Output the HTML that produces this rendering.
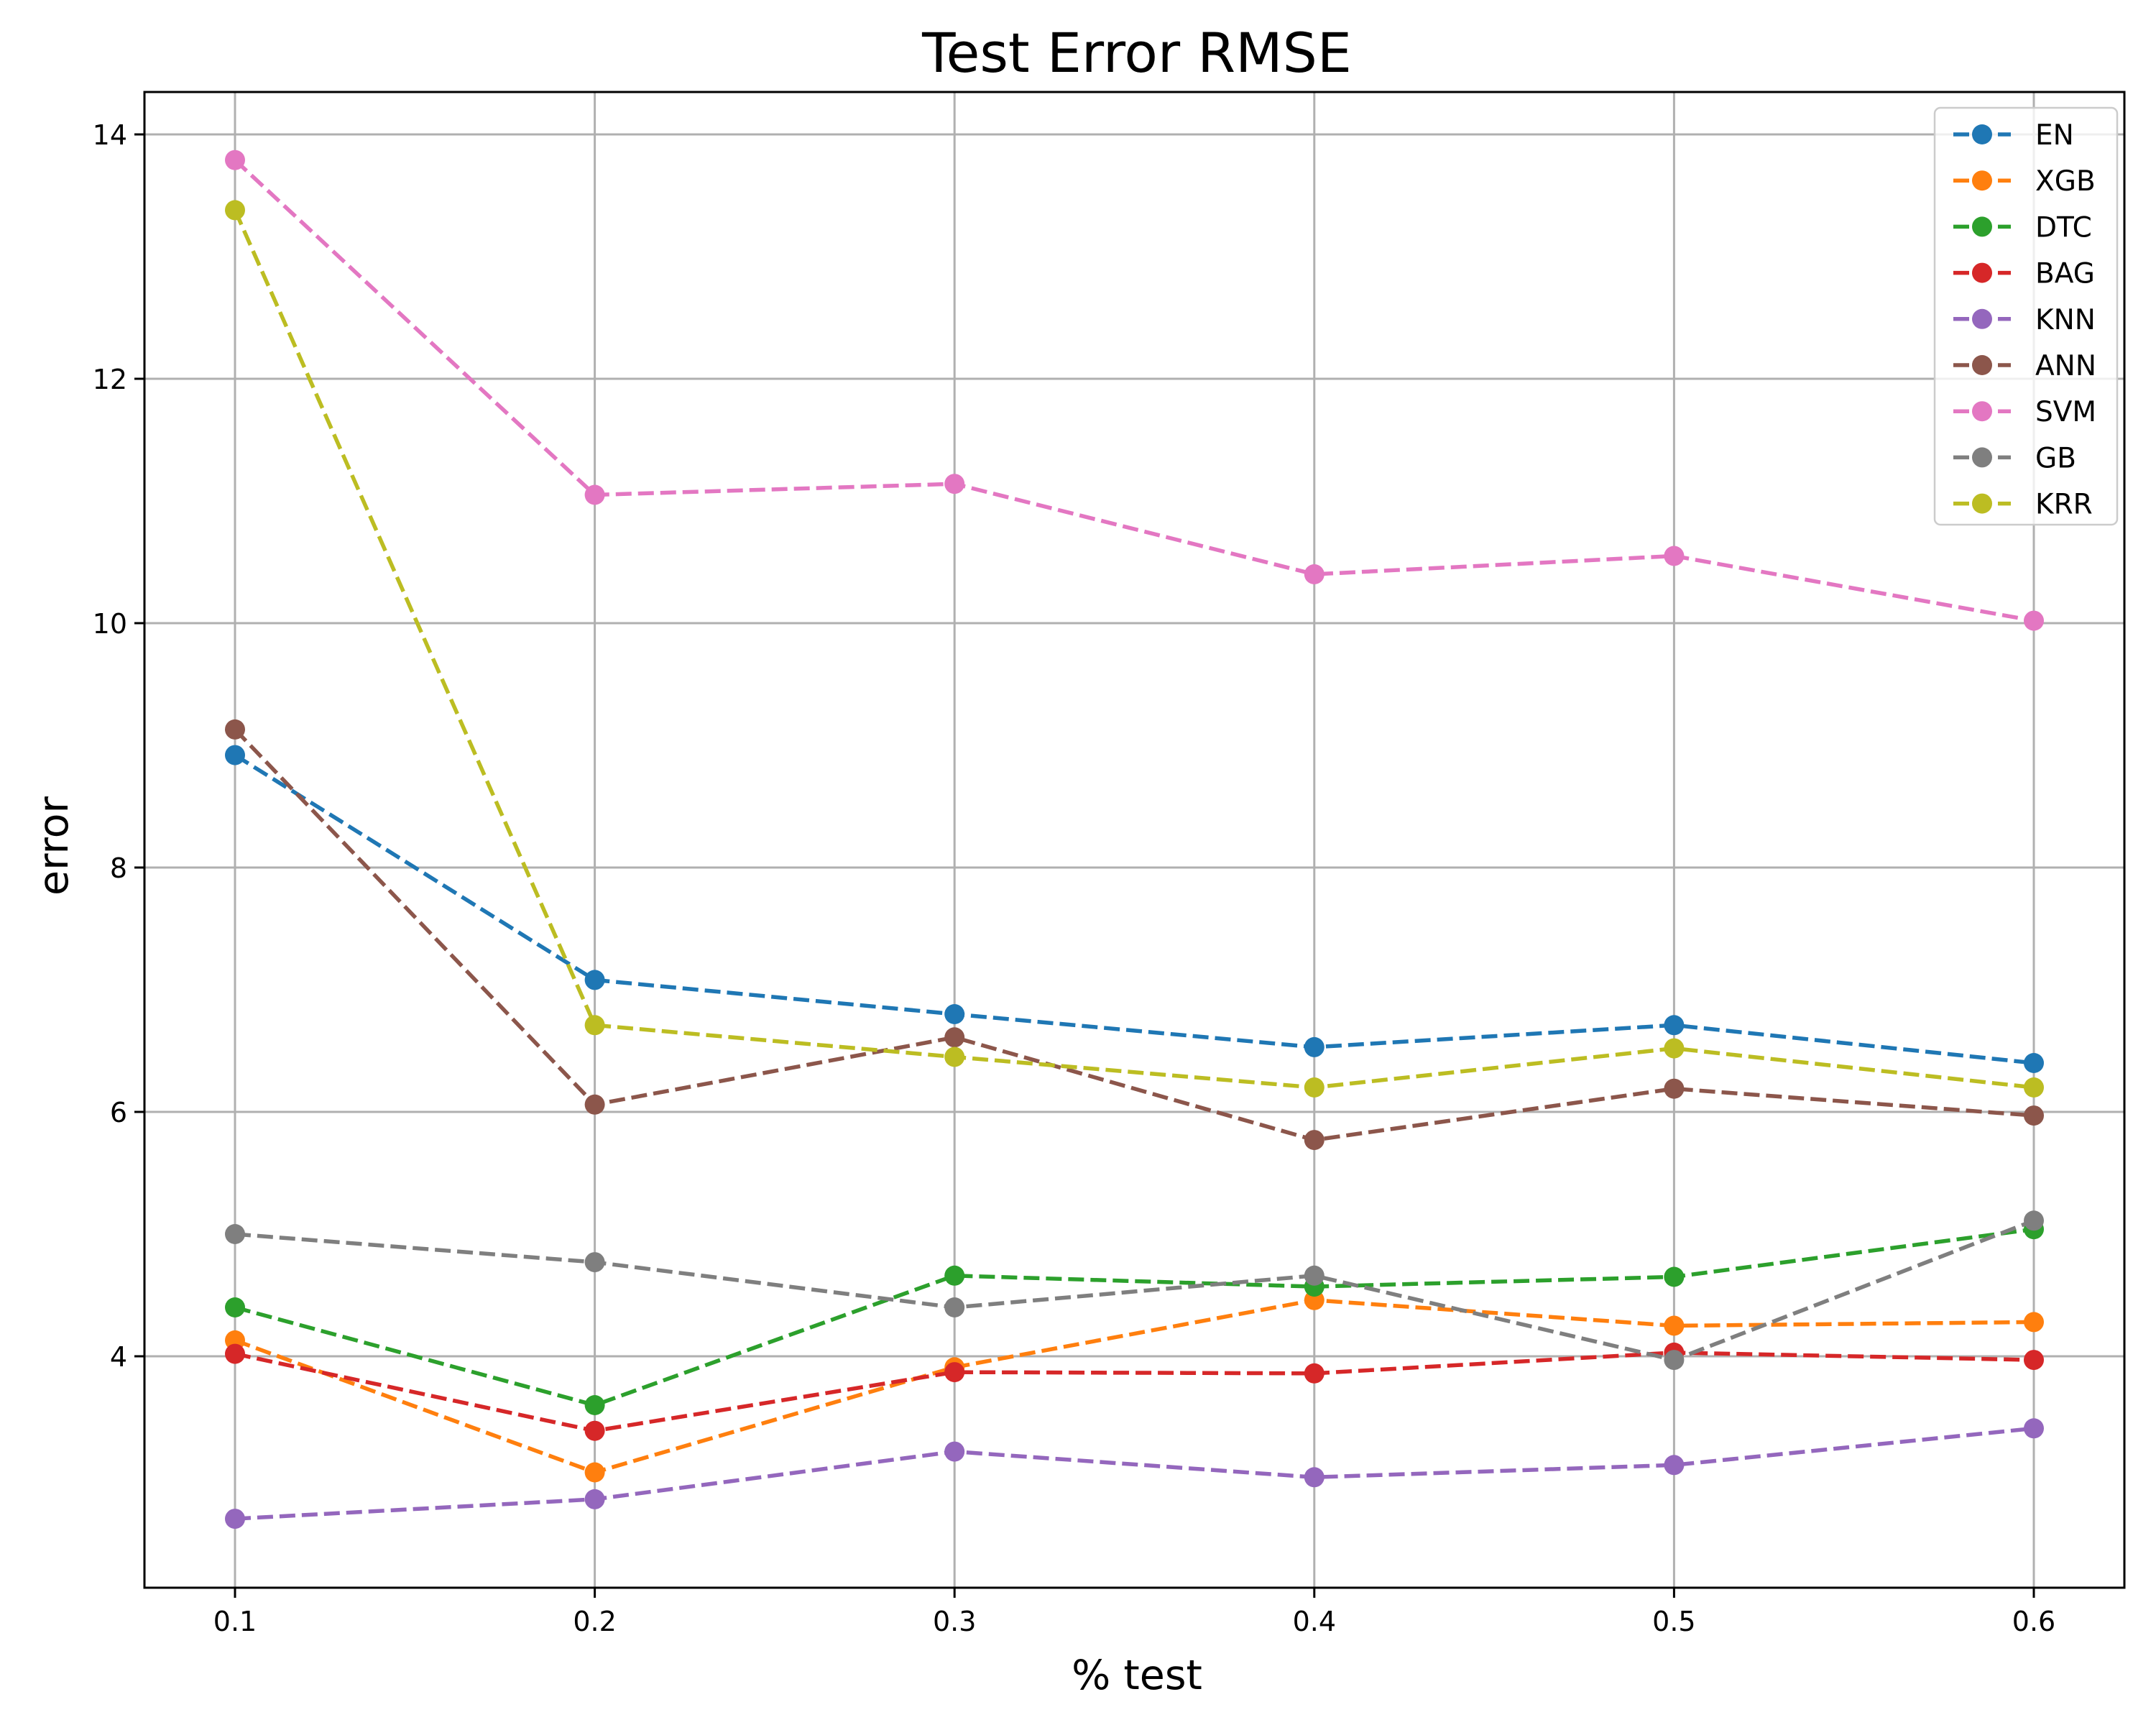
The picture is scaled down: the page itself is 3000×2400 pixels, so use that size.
<!DOCTYPE html>
<html><head><meta charset="utf-8"><style>
html,body{margin:0;padding:0;background:#fff}
svg{display:block;font-family:"DejaVu Sans","Liberation Sans",sans-serif}
</style></head><body>
<svg id="chart" width="3000" height="2400" viewBox="0 0 3000 2400" xmlns="http://www.w3.org/2000/svg">
<rect width="3000" height="2400" fill="#fff"/>
<g id="grid"></g><g id="series"></g><g id="axes"></g><g id="legend"></g>
<text x="1582" y="100" font-size="76" text-anchor="middle">Test Error RMSE</text>
<text x="1582" y="2350" font-size="57" text-anchor="middle">% test</text>
<text x="94" y="1177" font-size="57" text-anchor="middle" transform="rotate(-90 94 1177)">error</text>
</svg>
<script>
const xValues=[0.1,0.2,0.3,0.4,0.5,0.6];
const xTicks=["0.1","0.2","0.3","0.4","0.5","0.6"];
const yTicks=[4,6,8,10,12,14];
const seriesNames=["EN","XGB","DTC","BAG","KNN","ANN","SVM","GB","KRR"];
const seriesColors=["#1f77b4","#ff7f0e","#2ca02c","#d62728","#9467bd","#8c564b","#e377c2","#7f7f7f","#bcbd22"];
const EN=[8.92,7.08,6.80,6.53,6.71,6.40];
const XGB=[4.13,3.05,3.91,4.46,4.25,4.28];
const DTC=[4.40,3.60,4.66,4.57,4.65,5.04];
const BAG=[4.02,3.39,3.87,3.86,4.03,3.97];
const KNN=[2.67,2.83,3.22,3.01,3.11,3.41];
const ANN=[9.13,6.06,6.61,5.77,6.19,5.97];
const SVM=[13.79,11.05,11.14,10.40,10.55,10.02];
const GB=[5.00,4.77,4.40,4.66,3.97,5.11];
const KRR=[13.38,6.71,6.45,6.20,6.52,6.20];
const seriesData=[EN,XGB,DTC,BAG,KNN,ANN,SVM,GB,KRR];

const L=201,R=2956,T=128,B=2209;
const xs=v=>327+(v-0.1)*(2830-327)/0.5;
const ys=v=>1887-(v-4)*(1887-187)/10;
const NS="http://www.w3.org/2000/svg";
function mk(tag,attrs,parent){const e=document.createElementNS(NS,tag);for(const k in attrs)e.setAttribute(k,attrs[k]);parent.appendChild(e);return e;}
const grid=document.getElementById('grid'),axes=document.getElementById('axes'),ser=document.getElementById('series'),leg=document.getElementById('legend');
xValues.forEach((v,i)=>{
  const g=mk('line',{x1:xs(v),x2:xs(v),y1:T,y2:B,stroke:'#b0b0b0','stroke-width':3},grid);
  
  
  const t=mk('line',{x1:xs(v),x2:xs(v),y1:B,y2:B+14,stroke:'#000','stroke-width':3},axes);
  
  
  const tx=mk('text',{x:xs(v),y:B+60,'font-size':38,'text-anchor':'middle'},axes);
  tx.textContent=xTicks[i];
  
  
});
yTicks.forEach(v=>{
  const g=mk('line',{x1:L,x2:R,y1:ys(v),y2:ys(v),stroke:'#b0b0b0','stroke-width':3},grid);
  
  
  const t=mk('line',{x1:L-14,x2:L,y1:ys(v),y2:ys(v),stroke:'#000','stroke-width':3},axes);
  
  
  const tx=mk('text',{x:L-24,y:ys(v)+14,'font-size':38,'text-anchor':'end'},axes);
  tx.textContent=String(v);
  
  
});
const frame=mk('rect',{x:L,y:T,width:R-L,height:B-T,fill:'none',stroke:'#000','stroke-width':3},axes);


seriesData.forEach((d,si)=>{
  const c=seriesColors[si];
  const g=mk('g',{},ser);
  
  
  const p=mk('polyline',{points:d.map((v,i)=>xs(xValues[i])+','+ys(v)).join(' '),fill:'none',stroke:c,'stroke-width':5.5,'stroke-dasharray':'22 9'},g);
  
  
  d.forEach((v,i)=>{
    const m=mk('circle',{cx:xs(xValues[i]),cy:ys(v),r:14,fill:c},g);
    
    
  });
});
const lb=mk('rect',{x:2692,y:150,width:254,height:580,rx:8,fill:'#fff','fill-opacity':0.8,stroke:'#ccc','stroke-width':2.5},leg);


seriesNames.forEach((n,i)=>{
  const y=187+i*64.2;
  const g=mk('g',{},leg);
  
  
  mk('line',{x1:2718,x2:2798,y1:y,y2:y,stroke:seriesColors[i],'stroke-width':5.5,'stroke-dasharray':'22 9'},g);
  mk('circle',{cx:2758,cy:y,r:14,fill:seriesColors[i]},g);
  const t=mk('text',{x:2832,y:y+14,'font-size':39},g);
  t.textContent=n;
});
</script>
</body></html>
